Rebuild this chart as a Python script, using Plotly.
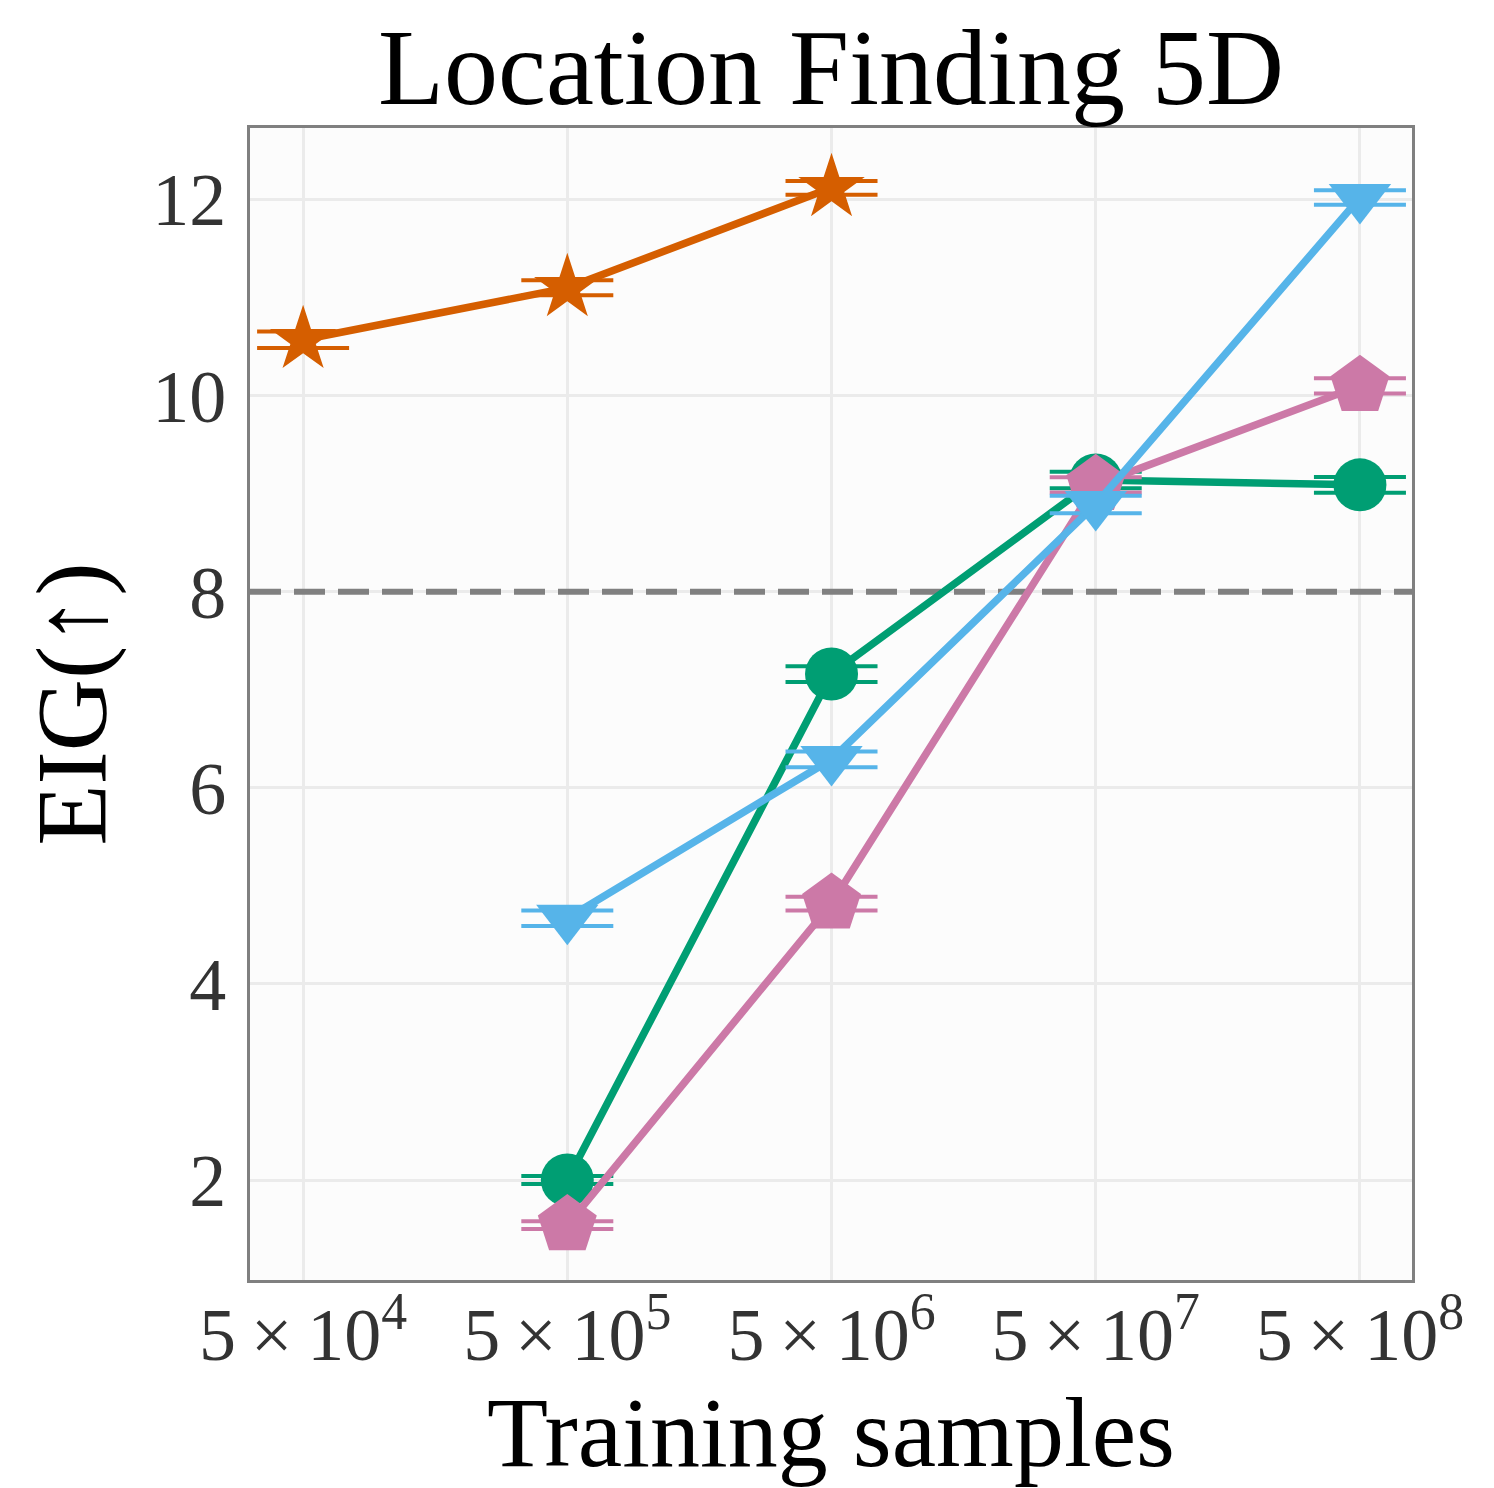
import plotly.graph_objects as go

x_vals = [5e4, 5e5, 5e6, 5e7, 5e8]
tick_text = ["5\u2009×\u200910<sup>4</sup>", "5\u2009×\u200910<sup>5</sup>", "5\u2009×\u200910<sup>6</sup>",
             "5\u2009×\u200910<sup>7</sup>", "5\u2009×\u200910<sup>8</sup>"]
y_ticks = [2, 4, 6, 8, 10, 12]

orange_x = [5e4, 5e5, 5e6]
orange_y = [10.57, 11.10, 12.12]
orange_err = [0.085, 0.077, 0.07]

green_x = [5e5, 5e6, 5e7, 5e8]
green_y = [2.00, 7.16, 9.14, 9.09]
green_err = [0.04, 0.08, 0.085, 0.08]

pink_x = [5e5, 5e6, 5e7, 5e8]
pink_y = [1.54, 4.82, 9.09, 10.10]
pink_err = [0.04, 0.07, 0.077, 0.077]

blue_x = [5e5, 5e6, 5e7, 5e8]
blue_y = [4.67, 6.29, 8.89, 12.02]
blue_err = [0.08, 0.08, 0.09, 0.074]

baseline = 8.0

x_range_log = [4.498, 8.896]
y_range = [0.98, 12.73]

FONT = "Liberation Serif"

fig = go.Figure()

# dashed reference line spanning the full x range
fig.add_trace(go.Scatter(
    x=[10 ** x_range_log[0], 10 ** x_range_log[1]], y=[baseline, baseline],
    mode="lines", line=dict(color="#808080", width=6, dash="31px,13px"),
    hoverinfo="skip", showlegend=False, cliponaxis=True,
))

def add(xs, ys, errs, color, symbol, size):
    fig.add_trace(go.Scatter(
        x=xs, y=ys, mode="lines+markers",
        line=dict(color=color, width=7.5),
        marker=dict(symbol=symbol, size=size, color=color, line=dict(width=0)),
        error_y=dict(type="data", array=errs, visible=True, color=color,
                     thickness=4, width=46),
        showlegend=False,
    ))

add(orange_x, orange_y, orange_err, "#D55E00", "star", 50)
add(green_x, green_y, green_err, "#009E73", "circle", 53)
add(pink_x, pink_y, pink_err, "#CC79A7", "pentagon", 62)
add(blue_x, blue_y, blue_err, "#56B4E9", "triangle-down", 54)

fig.update_layout(
    width=1494, height=1488,
    margin=dict(l=250, r=82, t=128, b=208),
    paper_bgcolor="white",
    plot_bgcolor="#fcfcfc",
    font=dict(family=FONT, color="#333333"),
    title=dict(text="Location Finding 5D", x=(250 + 1412) / 2 / 1494, xanchor="center",
               y=1 - 66 / 1488, yanchor="middle", yref="container",
               font=dict(family=FONT, size=108, color="black")),
)

fig.update_xaxes(
    type="log", range=x_range_log, automargin=False,
    tickvals=x_vals, ticktext=tick_text,
    tickfont=dict(family=FONT, size=74, color="#333333"),
    ticks="outside", ticklen=0, tickcolor="rgba(0,0,0,0)",
    ticklabelstandoff=-12,
    showgrid=True, gridcolor="#ebebeb", gridwidth=2.5,
    showline=True, linecolor="#808080", linewidth=3, mirror=True,
    zeroline=False,
    title=dict(text="Training samples", font=dict(family=FONT, size=100, color="black"), standoff=30),
)

fig.update_yaxes(
    range=y_range, automargin=False,
    tickvals=y_ticks,
    tickfont=dict(family=FONT, size=74, color="#333333"),
    ticks="outside", ticklen=6, tickcolor="rgba(0,0,0,0)",
    showgrid=True, gridcolor="#ebebeb", gridwidth=2.5,
    showline=True, linecolor="#808080", linewidth=3, mirror=True,
    zeroline=False,
    title=dict(text="EIG(↑)", font=dict(family=FONT, size=100, color="black"), standoff=14),
)

fig.write_html("out.html")
